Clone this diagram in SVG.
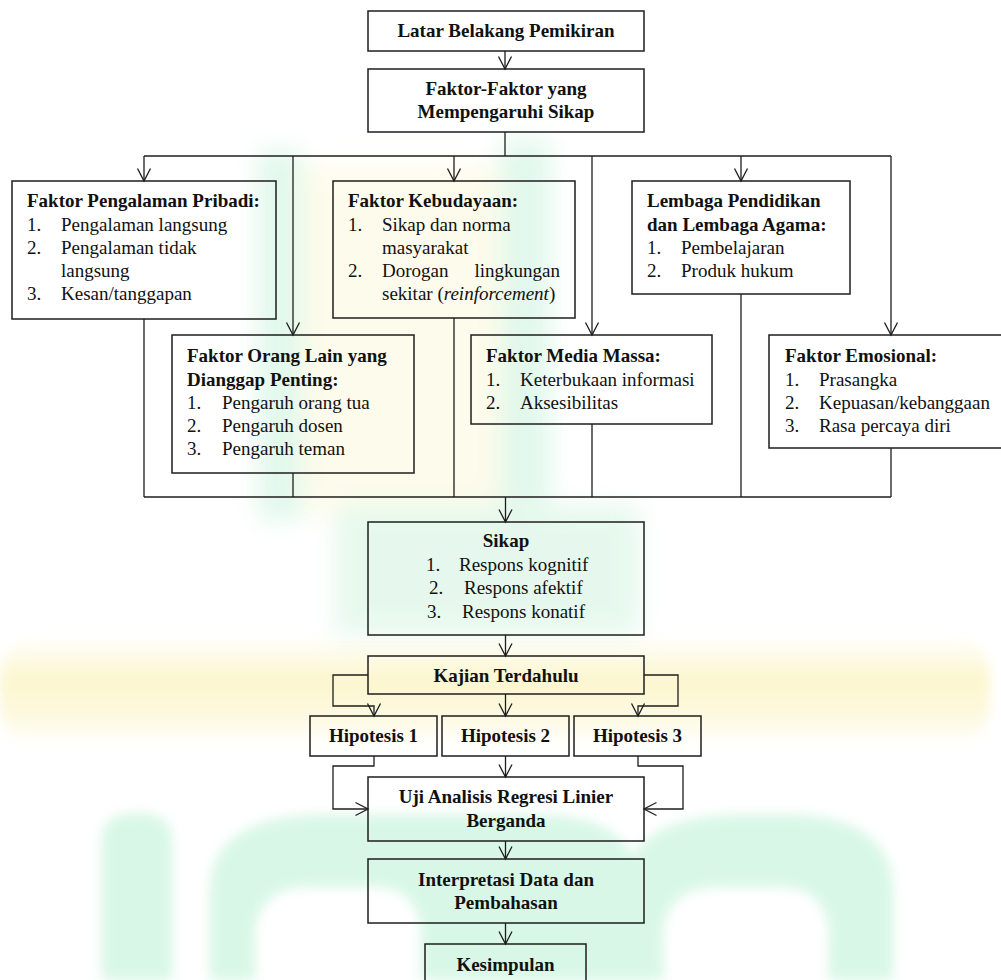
<svg xmlns="http://www.w3.org/2000/svg" width="1001" height="980" viewBox="0 0 1001 980">
<defs>
<style>
.box{fill:none;stroke:#1e1e1e;stroke-width:1.5}
.ln{fill:none;stroke:#1e1e1e;stroke-width:1.3}
.t{font-family:"Liberation Serif","Times New Roman",serif;font-size:19px;fill:#111}
.b{font-weight:bold}
.c{text-anchor:middle}
.e{text-anchor:end}
.wg{fill:#c8f4dc}
</style>
<marker id="ah" markerUnits="userSpaceOnUse" markerWidth="20" markerHeight="20" viewBox="-15 -10 20 20" refX="0" refY="0" orient="auto" overflow="visible">
<path d="M-12.5,-6.5 L0,0 L-12.5,6.5" fill="none" stroke="#1e1e1e" stroke-width="1.3"/>
</marker>
<filter id="blur" x="-20%" y="-20%" width="140%" height="140%"><feGaussianBlur stdDeviation="12"/></filter>
<filter id="blur2" x="-20%" y="-20%" width="140%" height="140%"><feGaussianBlur stdDeviation="6"/></filter>
<linearGradient id="yb" x1="0" y1="0" x2="0" y2="1">
<stop offset="0" stop-color="#fbf3bd" stop-opacity="0"/>
<stop offset="0.4" stop-color="#fbf3bd" stop-opacity="1"/>
<stop offset="0.7" stop-color="#fcf6cf" stop-opacity="0.9"/>
<stop offset="1" stop-color="#fcf6cf" stop-opacity="0"/>
</linearGradient>
</defs>
<rect x="0" y="0" width="1001" height="980" fill="#ffffff"/>
<g id="watermark">
<g filter="url(#blur)" opacity="0.55">
<rect x="300" y="165" width="205" height="350" fill="#fdf9dc"/>
<rect x="258" y="150" width="44" height="370" fill="#c9f3dc"/>
<rect x="500" y="140" width="50" height="370" fill="#c9f3dc"/>
<rect x="335" y="505" width="305" height="130" fill="#d3f4df"/>
</g>
<rect x="0" y="635" width="990" height="112" rx="40" fill="url(#yb)" filter="url(#blur2)" opacity="0.75"/>
<g filter="url(#blur2)" opacity="0.7">
<path class="wg" d="M102,980 V840 Q102,813 137,813 Q172,813 172,840 V980 Z"/>
<path class="wg" fill-rule="evenodd" d="M210,980 V890 C210,845 245,815 320,815 H540 C610,815 640,845 640,890 V980 Z M255,980 V935 C255,905 275,887 305,887 H375 C405,887 421,905 421,935 V980 Z"/>
<path class="wg" fill-rule="evenodd" d="M625,980 V890 C625,845 660,815 740,815 H790 C860,815 893,845 893,890 V980 Z M663,980 V935 C663,905 685,887 715,887 H780 C812,887 829,905 829,935 V980 Z"/>
</g>
</g>
<g id="connectors">
<path class="ln" d="M505,51 V69" marker-end="url(#ah)"/>
<path class="ln" d="M505,132 V156"/>
<path class="ln" d="M144,156 H891"/>
<path class="ln" d="M144,156 V181" marker-end="url(#ah)"/>
<path class="ln" d="M293,156 V335" marker-end="url(#ah)"/>
<path class="ln" d="M454,156 V181" marker-end="url(#ah)"/>
<path class="ln" d="M592,156 V335" marker-end="url(#ah)"/>
<path class="ln" d="M741,156 V181" marker-end="url(#ah)"/>
<path class="ln" d="M891,156 V335" marker-end="url(#ah)"/>
<path class="ln" d="M144,319 V497 M293,473 V497 M454,318 V497 M592,424 V497 M741,294 V497 M891,448 V497"/>
<path class="ln" d="M144,497 H891"/>
<path class="ln" d="M505.5,497 V522" marker-end="url(#ah)"/>
<path class="ln" d="M505.5,635 V656" marker-end="url(#ah)"/>
<path class="ln" d="M368,675 H333 V706 H374 V716" marker-end="url(#ah)"/>
<path class="ln" d="M505.5,694 V716" marker-end="url(#ah)"/>
<path class="ln" d="M644,675 H678 V706 H638 V716" marker-end="url(#ah)"/>
<path class="ln" d="M374,756 V766 H333 V809 H368" marker-end="url(#ah)"/>
<path class="ln" d="M505.5,756 V777" marker-end="url(#ah)"/>
<path class="ln" d="M638,756 V766 H683 V809 H644" marker-end="url(#ah)"/>
<path class="ln" d="M505.5,841 V859" marker-end="url(#ah)"/>
<path class="ln" d="M505.5,923 V944" marker-end="url(#ah)"/>
</g>
<g id="latar">
<rect class="box" x="368" y="11" width="276" height="40"/>
<text class="t b c" x="506" y="37">Latar Belakang Pemikiran</text>
</g>
<g id="faktor">
<rect class="box" x="368" y="69" width="276" height="63"/>
<text class="t b c" x="506" y="95">Faktor-Faktor yang</text>
<text class="t b c" x="506" y="118">Mempengaruhi Sikap</text>
</g>
<g id="pengalaman">
<rect class="box" x="12" y="181" width="264" height="138"/>
<text class="t b" x="27" y="207">Faktor Pengalaman Pribadi:</text>
<text class="t" x="27" y="230.5">1.</text><text class="t" x="61" y="230.5">Pengalaman langsung</text>
<text class="t" x="27" y="253.8">2.</text><text class="t" x="61" y="253.8">Pengalaman tidak</text>
<text class="t" x="61" y="277">langsung</text>
<text class="t" x="27" y="300.3">3.</text><text class="t" x="61" y="300.3">Kesan/tanggapan</text>
</g>
<g id="kebudayaan">
<rect class="box" x="333" y="181" width="242" height="137"/>
<text class="t b" x="348" y="207">Faktor Kebudayaan:</text>
<text class="t" x="348" y="230.5">1.</text><text class="t" x="382" y="230.5">Sikap dan norma</text>
<text class="t" x="382" y="253.8">masyarakat</text>
<text class="t" x="348" y="277">2.</text><text class="t" x="382" y="277">Dorogan</text><text class="t e" x="560" y="277">lingkungan</text>
<text class="t" x="382" y="300.3">sekitar (<tspan font-style="italic">reinforcement</tspan>)</text>
</g>
<g id="lembaga">
<rect class="box" x="632" y="181" width="218" height="113"/>
<text class="t b" x="647" y="207">Lembaga Pendidikan</text>
<text class="t b" x="647" y="230.5">dan Lembaga Agama:</text>
<text class="t" x="647" y="253.8">1.</text><text class="t" x="681" y="253.8">Pembelajaran</text>
<text class="t" x="647" y="277">2.</text><text class="t" x="681" y="277">Produk hukum</text>
</g>
<g id="oranglain">
<rect class="box" x="172" y="335" width="242" height="138"/>
<text class="t b" x="187" y="362">Faktor Orang Lain yang</text>
<text class="t b" x="187" y="385.5">Dianggap Penting:</text>
<text class="t" x="187" y="408.8">1.</text><text class="t" x="222" y="408.8">Pengaruh orang tua</text>
<text class="t" x="187" y="432">2.</text><text class="t" x="222" y="432">Pengaruh dosen</text>
<text class="t" x="187" y="455.3">3.</text><text class="t" x="222" y="455.3">Pengaruh teman</text>
</g>
<g id="media">
<rect class="box" x="471" y="335" width="241" height="89"/>
<text class="t b" x="486" y="362">Faktor Media Massa:</text>
<text class="t" x="486" y="385.5">1.</text><text class="t" x="520" y="385.5">Keterbukaan informasi</text>
<text class="t" x="486" y="408.8">2.</text><text class="t" x="520" y="408.8">Aksesibilitas</text>
</g>
<g id="emosional">
<rect class="box" x="769" y="335" width="236" height="113"/>
<text class="t b" x="785" y="362">Faktor Emosional:</text>
<text class="t" x="785" y="385.5">1.</text><text class="t" x="819" y="385.5">Prasangka</text>
<text class="t" x="785" y="408.8">2.</text><text class="t" x="819" y="408.8">Kepuasan/kebanggaan</text>
<text class="t" x="785" y="432">3.</text><text class="t" x="819" y="432">Rasa percaya diri</text>
</g>
<g id="sikap">
<rect class="box" x="368" y="522" width="276" height="113"/>
<text class="t b c" x="506" y="547">Sikap</text>
<text class="t" x="426" y="571">1.</text><text class="t" x="459" y="571">Respons kognitif</text>
<text class="t" x="429" y="594.3">2.</text><text class="t" x="464" y="594.3">Respons afektif</text>
<text class="t" x="427" y="617.6">3.</text><text class="t" x="462" y="617.6">Respons konatif</text>
</g>
<g id="kajian">
<rect class="box" x="368" y="656" width="276" height="38"/>
<text class="t b c" x="506" y="681.5">Kajian Terdahulu</text>
</g>
<g id="hipotesis1">
<rect class="box" x="310" y="716" width="127" height="40"/>
<text class="t b c" x="373.5" y="742">Hipotesis 1</text>
</g>
<g id="hipotesis2">
<rect class="box" x="442" y="716" width="127" height="40"/>
<text class="t b c" x="505.5" y="742">Hipotesis 2</text>
</g>
<g id="hipotesis3">
<rect class="box" x="574" y="716" width="127" height="40"/>
<text class="t b c" x="637.5" y="742">Hipotesis 3</text>
</g>
<g id="uji">
<rect class="box" x="368" y="777" width="276" height="64"/>
<text class="t b c" x="506" y="803">Uji Analisis Regresi Linier</text>
<text class="t b c" x="506" y="826.5">Berganda</text>
</g>
<g id="interpretasi">
<rect class="box" x="368" y="859" width="276" height="64"/>
<text class="t b c" x="506" y="885.5">Interpretasi Data dan</text>
<text class="t b c" x="506" y="908.5">Pembahasan</text>
</g>
<g id="kesimpulan">
<rect class="box" x="425" y="944" width="161" height="50"/>
<text class="t b c" x="505.5" y="970.5">Kesimpulan</text>
</g>
</svg>
